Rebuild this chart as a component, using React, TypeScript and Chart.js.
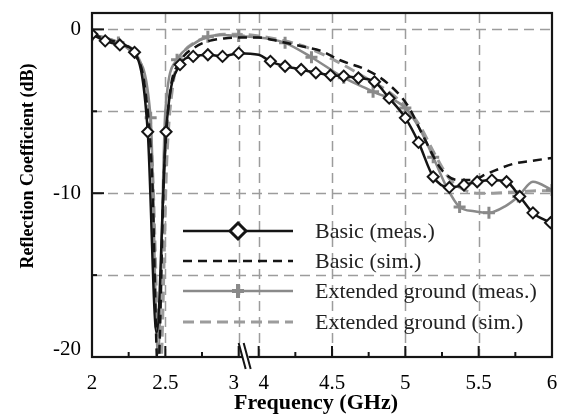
import React, { useEffect, useRef } from "react";
import { Chart, registerables } from "chart.js";

Chart.register(...registerables);

// ---- data (frequency in GHz, reflection coefficient in dB) ----
const basicMeasFreq = [2.0, 2.09, 2.19, 2.29, 2.38, 2.44, 2.505, 2.6, 2.69, 2.79, 2.89, 3.0, 4.0, 4.08, 4.18, 4.29, 4.39, 4.49, 4.58, 4.68, 4.79, 4.89, 5.0, 5.09, 5.19, 5.3, 5.4, 5.49, 5.59, 5.69, 5.78, 5.87, 5.99];
const basicMeasDb = [-0.3, -0.7, -0.95, -1.4, -6.25, -18.5, -6.25, -2.15, -1.65, -1.55, -1.65, -1.45, -1.55, -1.95, -2.25, -2.45, -2.65, -2.8, -2.85, -2.97, -3.2, -4.2, -5.4, -6.9, -9.0, -9.65, -9.5, -9.3, -9.2, -9.3, -10.2, -11.2, -11.8];
const basicMeasMarker = [1, 1, 1, 1, 1, 0, 1, 1, 1, 1, 1, 1, 0, 1, 1, 1, 1, 1, 1, 1, 1, 1, 1, 1, 1, 1, 1, 1, 1, 1, 1, 1, 1];

const basicSimFreq = [2.0, 2.1, 2.2, 2.3, 2.36, 2.41, 2.45, 2.49, 2.53, 2.6, 2.7, 2.8, 2.9, 3.0, 4.0, 4.1, 4.2, 4.3, 4.42, 4.56, 4.74, 4.88, 5.02, 5.11, 5.25, 5.36, 5.45, 5.56, 5.74, 5.88, 6.0];
const basicSimDb = [-0.3, -0.6, -0.9, -1.6, -3.5, -9.0, -21.0, -9.0, -4.0, -2.0, -1.1, -0.7, -0.55, -0.5, -0.5, -0.65, -0.85, -1.05, -1.3, -1.9, -2.5, -3.3, -4.7, -6.3, -8.6, -9.2, -9.2, -8.8, -8.2, -8.0, -7.85];

const extMeasFreq = [2.0, 2.09, 2.18, 2.29, 2.4, 2.45, 2.5, 2.58, 2.69, 2.79, 2.89, 3.0, 4.0, 4.08, 4.18, 4.36, 4.58, 4.78, 5.0, 5.1, 5.19, 5.28, 5.37, 5.47, 5.57, 5.68, 5.77, 5.87, 6.0];
const extMeasDb = [-0.35, -0.5, -0.8, -1.6, -5.4, -19.8, -5.0, -1.85, -0.9, -0.45, -0.35, -0.4, -0.5, -0.6, -0.82, -1.7, -2.95, -3.8, -4.8, -6.1, -7.8, -9.6, -10.85, -11.1, -11.2, -10.8, -10.2, -9.3, -9.8];
const extMeasMarker = [1, 0, 1, 0, 1, 0, 0, 1, 0, 1, 0, 1, 0, 0, 1, 1, 1, 1, 1, 0, 1, 0, 1, 0, 1, 0, 1, 0, 1];

const extSimFreq = [2.0, 2.1, 2.2, 2.3, 2.36, 2.41, 2.465, 2.51, 2.55, 2.62, 2.7, 2.8, 2.9, 3.0, 4.0, 4.15, 4.3, 4.5, 4.7, 4.9, 5.0, 5.1, 5.2, 5.3, 5.4, 5.5, 5.6, 5.7, 5.8, 5.9, 6.0];
const extSimDb = [-0.3, -0.55, -0.9, -1.5, -3.2, -8.0, -21.0, -8.0, -3.5, -1.5, -0.8, -0.45, -0.3, -0.3, -0.4, -0.65, -1.0, -1.8, -2.8, -3.9, -4.7, -5.9, -7.6, -9.1, -9.8, -10.0, -10.0, -9.95, -9.9, -9.85, -9.85];

const seriesLabels = ["Basic (meas.)", "Basic (sim.)", "Extended ground (meas.)", "Extended ground (sim.)"];

const xTickFreqs = [2, 2.5, 3, 4, 4.5, 5, 5.5, 6];
const xTickLabels = ["2", "2.5", "3", "4", "4.5", "5", "5.5", "6"];
const xMinorFreqs = [2.25, 2.75, 4.25, 4.75, 5.25, 5.75];
const yTickValues = [-20, -15, -10, -5, 0];
const yTickLabels = ["-20", "", "-10", "", "0"];

const xTitle = "Frequency (GHz)";
const yTitle = "Reflection Coefficient (dB)";

// ---- axis break between 3 and 4 GHz ----
const BREAK_GAP = 20 / 146.6;
const toU = (f: number) => (f <= 3.5 ? f : f - 1 + BREAK_GAP);

const BLACK = "#151515";
const GRAY = "#8a8a8a";
const LGRAY = "#9c9c9c";
const SERIF = "'Liberation Serif', 'Times New Roman', serif";

const pts = (fs: number[], ds: number[]) => fs.map((f, i) => ({ x: toU(f), y: ds[i] }));

function drawDiamond(ctx: CanvasRenderingContext2D, x: number, y: number, r: number) {
  ctx.beginPath();
  ctx.moveTo(x, y - r);
  ctx.lineTo(x + r, y);
  ctx.lineTo(x, y + r);
  ctx.lineTo(x - r, y);
  ctx.closePath();
}

const decorPlugin = {
  id: "decor",
  beforeDatasetsDraw(chart: any) {
    const { ctx, chartArea: a, scales } = chart;
    const x = scales.x, y = scales.y;
    ctx.save();
    ctx.strokeStyle = LGRAY;
    ctx.lineWidth = 1.5;
    ctx.setLineDash([10, 6]);
    xTickFreqs.forEach((f) => {
      if (f === 2 || f === 6) return;
      const px = Math.round(x.getPixelForValue(toU(f))) + 0.5;
      ctx.beginPath();
      ctx.moveTo(px, a.top);
      ctx.lineTo(px, a.bottom);
      ctx.stroke();
    });
    yTickValues.forEach((v) => {
      if (v === -20) return;
      const py = Math.round(y.getPixelForValue(v)) + 0.5;
      ctx.beginPath();
      ctx.moveTo(a.left, py);
      ctx.lineTo(a.right, py);
      ctx.stroke();
    });
    ctx.restore();
  },
  afterDraw(chart: any) {
    const { ctx, chartArea: a, scales } = chart;
    const x = scales.x, y = scales.y;
    ctx.save();
    ctx.setLineDash([]);
    // frame
    ctx.strokeStyle = BLACK;
    ctx.lineWidth = 2.2;
    ctx.strokeRect(a.left, a.top, a.right - a.left, a.bottom - a.top);
    // inward ticks on y + labels
    ctx.lineWidth = 2;
    ctx.fillStyle = "#000";
    ctx.font = `21px ${SERIF}`;
    ctx.textAlign = "right";
    ctx.textBaseline = "middle";
    yTickValues.forEach((v, i) => {
      const py = y.getPixelForValue(v);
      const len = yTickLabels[i] ? 12 : 5;
      ctx.beginPath();
      ctx.moveTo(a.left, py);
      ctx.lineTo(a.left + len, py);
      ctx.stroke();
      if (yTickLabels[i]) ctx.fillText(yTickLabels[i], a.left - 11, v === -20 ? py - 8 : py);
    });
    // inward ticks on x
    xTickFreqs.forEach((f) => {
      if (f === 2 || f === 6) return;
      const px = x.getPixelForValue(toU(f));
      ctx.beginPath();
      ctx.moveTo(px, a.bottom);
      ctx.lineTo(px, a.bottom - 11);
      ctx.stroke();
    });
    xMinorFreqs.forEach((f) => {
      const px = x.getPixelForValue(toU(f));
      ctx.beginPath();
      ctx.moveTo(px, a.bottom);
      ctx.lineTo(px, a.bottom - 5);
      ctx.stroke();
    });
    // axis break mark
    const cx = (x.getPixelForValue(toU(3)) + x.getPixelForValue(toU(4))) / 2;
    const b = a.bottom;
    ctx.fillStyle = "#ffffff";
    ctx.beginPath();
    ctx.moveTo(cx - 7, b - 4);
    ctx.lineTo(cx - 1, b - 4);
    ctx.lineTo(cx + 1, b + 4);
    ctx.lineTo(cx - 5, b + 4);
    ctx.closePath();
    ctx.fill();
    ctx.strokeStyle = BLACK;
    ctx.lineWidth = 2;
    ctx.beginPath();
    ctx.moveTo(cx - 10, b - 14);
    ctx.lineTo(cx - 3, b + 12);
    ctx.moveTo(cx - 5, b - 14);
    ctx.lineTo(cx + 2, b + 12);
    ctx.stroke();
    // x tick labels
    ctx.fillStyle = "#000";
    ctx.font = `21px ${SERIF}`;
    ctx.textAlign = "center";
    ctx.textBaseline = "alphabetic";
    xTickFreqs.forEach((f, i) => {
      let px = x.getPixelForValue(toU(f));
      if (f === 3) px -= 5;
      if (f === 4) px += 5;
      ctx.fillText(xTickLabels[i], px, 389);
    });
    // axis titles
    ctx.font = `bold 22px ${SERIF}`;
    ctx.fillText(xTitle, 316, 409);
    ctx.save();
    ctx.translate(28, 166);
    ctx.rotate(-Math.PI / 2);
    ctx.textBaseline = "middle";
    ctx.font = `bold 18px ${SERIF}`;
    ctx.fillText(yTitle, 0, 0);
    ctx.restore();
    // legend
    const rows = [231, 261, 291, 322];
    const lx0 = 183, lx1 = 293, lmx = 238;
    chart.data.datasets.forEach((ds: any, i: number) => {
      const ry = rows[i];
      ctx.strokeStyle = ds.borderColor;
      ctx.lineWidth = ds.borderWidth;
      ctx.setLineDash(ds.borderDash || []);
      ctx.beginPath();
      ctx.moveTo(lx0, ry);
      ctx.lineTo(lx1, ry);
      ctx.stroke();
      ctx.setLineDash([]);
      if (i === 0) {
        ctx.fillStyle = "#fff";
        ctx.strokeStyle = BLACK;
        ctx.lineWidth = 3;
        drawDiamond(ctx, lmx, ry, 8);
        ctx.fill();
        ctx.stroke();
      } else if (i === 2) {
        ctx.strokeStyle = GRAY;
        ctx.lineWidth = 4;
        ctx.beginPath();
        ctx.moveTo(lmx - 6, ry);
        ctx.lineTo(lmx + 6, ry);
        ctx.moveTo(lmx, ry - 7);
        ctx.lineTo(lmx, ry + 7);
        ctx.stroke();
      }
      ctx.fillStyle = "#222";
      ctx.font = `22px ${SERIF}`;
      ctx.textAlign = "left";
      ctx.textBaseline = "middle";
      ctx.fillText(ds.label, 315, ry + 1);
    });
    ctx.restore();
  },
};

export default function App() {
  const ref = useRef<HTMLCanvasElement | null>(null);
  useEffect(() => {
    document.body.style.margin = "0";
    const canvas = ref.current;
    if (!canvas) return;
    const markerRadius = (flags: number[], r: number) => (c: any) => (flags[c.dataIndex] ? r : 0);
    const chart = new Chart(canvas, {
      type: "line",
      data: {
        datasets: [
          {
            label: seriesLabels[0],
            data: pts(basicMeasFreq, basicMeasDb),
            borderColor: BLACK,
            borderWidth: 2.5,
            pointStyle: "rectRot",
            pointRadius: markerRadius(basicMeasMarker, 5.5),
            pointBackgroundColor: "#ffffff",
            pointBorderColor: BLACK,
            pointBorderWidth: 2,
            cubicInterpolationMode: "monotone",
          },
          {
            label: seriesLabels[1],
            data: pts(basicSimFreq, basicSimDb),
            borderColor: BLACK,
            borderWidth: 2.5,
            borderDash: [9, 6],
            pointRadius: 0,
            cubicInterpolationMode: "monotone",
          },
          {
            label: seriesLabels[2],
            data: pts(extMeasFreq, extMeasDb),
            borderColor: GRAY,
            borderWidth: 2.5,
            pointStyle: "cross",
            pointRadius: markerRadius(extMeasMarker, 6),
            pointBorderColor: GRAY,
            pointBorderWidth: 3,
            cubicInterpolationMode: "monotone",
          },
          {
            label: seriesLabels[3],
            data: pts(extSimFreq, extSimDb),
            borderColor: LGRAY,
            borderWidth: 3,
            borderDash: [11, 6],
            pointRadius: 0,
            cubicInterpolationMode: "monotone",
          },
        ] as any,
      },
      options: {
        animation: false,
        responsive: false,
        devicePixelRatio: 1,
        layout: { padding: { left: 0, top: 13, right: 12, bottom: 0 } },
        plugins: { legend: { display: false }, tooltip: { enabled: false } },
        scales: {
          x: {
            type: "linear",
            min: 2,
            max: toU(6),
            grid: { display: false },
            border: { display: false },
            ticks: { display: false },
            afterBuildTicks: (s: any) => {
              s.ticks = xTickFreqs.map((f) => ({ value: toU(f) }));
            },
            afterFit: (s: any) => {
              s.height = 62;
            },
          },
          y: {
            type: "linear",
            min: -20,
            max: 1,
            grid: { display: false },
            border: { display: false },
            ticks: { display: false },
            afterBuildTicks: (s: any) => {
              s.ticks = yTickValues.map((v) => ({ value: v }));
            },
            afterFit: (s: any) => {
              s.width = 92;
            },
          },
        },
      } as any,
      plugins: [decorPlugin],
    });
    return () => chart.destroy();
  }, []);
  return (
    <div style={{ width: 564, height: 419, background: "#fff" }}>
      <canvas ref={ref} width={564} height={419} style={{ display: "block" }} />
    </div>
  );
}
